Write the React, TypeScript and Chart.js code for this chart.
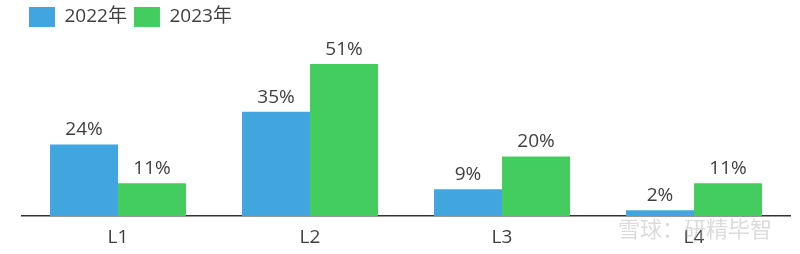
import React, { useEffect, useRef } from "react";
import { Chart, registerables } from "chart.js";

Chart.register(...registerables);

const categories = ["L1", "L2", "L3", "L4"];
const seriesNames = ["2022年", "2023年"];
const values2022 = [24, 35, 9, 2];
const values2023 = [11, 51, 20, 11];
const colors = ["#41A6E0", "#42CD5E"];

const FONT = "'Open Sans', 'Noto Sans CJK SC', sans-serif";

const labelPlugin = {
  id: "barLabels",
  afterDatasetsDraw(chart: any) {
    const ctx = chart.ctx;
    ctx.save();
    ctx.font = `19px ${FONT}`;
    ctx.fillStyle = "#404040";
    ctx.textAlign = "center";
    ctx.textBaseline = "bottom";
    chart.data.datasets.forEach((ds: any, i: number) => {
      const meta = chart.getDatasetMeta(i);
      meta.data.forEach((bar: any, j: number) => {
        ctx.fillText(`${ds.data[j]}%`, bar.x, bar.y - 5);
      });
    });
    ctx.restore();
  },
};

const watermarkPlugin = {
  id: "watermark",
  afterDraw(chart: any) {
    const ctx = chart.ctx;
    ctx.save();
    ctx.font = `22px 'Noto Sans CJK SC', sans-serif`;
    ctx.fillStyle = "rgba(190,190,190,0.55)";
    ctx.textAlign = "left";
    ctx.textBaseline = "middle";
    ctx.fillText("雪球：研精毕智", 618, 229);
    ctx.restore();
  },
};

export default function App() {
  const ref = useRef<HTMLCanvasElement>(null);
  useEffect(() => {
    document.body.style.margin = "0";
    const chart = new Chart(ref.current!, {
      type: "bar",
      data: {
        labels: categories,
        datasets: [
          { label: seriesNames[0], data: values2022, backgroundColor: colors[0], categoryPercentage: 0.708, barPercentage: 1 },
          { label: seriesNames[1], data: values2023, backgroundColor: colors[1], categoryPercentage: 0.708, barPercentage: 1 },
        ],
      },
      options: {
        animation: false,
        responsive: false,
        maintainAspectRatio: false,
        layout: { padding: { left: 22, right: 10, top: 0, bottom: -5 } },
        plugins: {
          tooltip: { enabled: false },
          legend: {
            position: "top",
            align: "start",
            labels: {
              boxWidth: 26,
              boxHeight: 20,
              padding: 7,
              color: "#404040",
              font: { size: 19, family: FONT },
            },
          },
        },
        scales: {
          x: {
            grid: { display: false, drawTicks: false },
            border: { display: true, color: "#333333", width: 1.5 },
            ticks: { color: "#404040", font: { size: 19, family: FONT }, padding: 10 },
          },
          y: {
            display: false,
            min: 0,
            max: 60,
          },
        },
      },
      plugins: [labelPlugin, watermarkPlugin],
    });
    return () => chart.destroy();
  }, []);
  return (
    <div style={{ width: 800, height: 254, overflow: "hidden" }}>
      <canvas ref={ref} width={800} height={254} style={{ display: "block" }} />
    </div>
  );
}
